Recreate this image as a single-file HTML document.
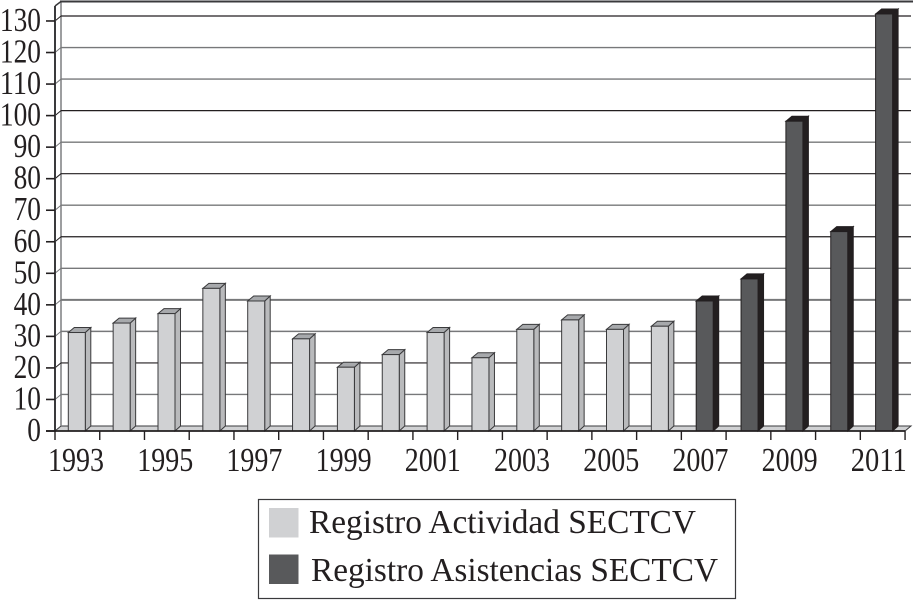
<!DOCTYPE html>
<html lang="es">
<head>
<meta charset="utf-8">
<title>Registro SECTCV</title>
<style>
html,body{margin:0;padding:0;background:#fff;width:913px;height:600px;overflow:hidden}
svg{display:block}
text{font-family:"Liberation Serif",serif;fill:#231f20}
</style>
</head>
<body>
<svg id="chart" xmlns="http://www.w3.org/2000/svg" width="913" height="600" viewBox="0 0 913 600">
  <g id="walls"></g>
  <g id="grid"></g>
  <g id="bars"></g>
  <g id="axes"></g>
  <g id="legend">
    <rect x="258.5" y="499.5" width="477" height="99" fill="#fff" stroke="#3a3a3c" stroke-width="1.2"/>
    <rect x="269" y="508" width="29.500" height="29.500" fill="#d0d1d3"/>
    <text x="309" y="533" font-size="34" textLength="387" lengthAdjust="spacingAndGlyphs">Registro Actividad SECTCV</text>
    <rect x="269" y="554.500" width="29.500" height="29.500" fill="#58595b"/>
    <text x="311" y="581" font-size="34" textLength="407" lengthAdjust="spacingAndGlyphs">Registro Asistencias SECTCV</text>
  </g>
</svg>
<script>
const years = [1993,1994,1995,1996,1997,1998,1999,2000,2001,2002,2003,2004,2005,2006,2007,2008,2009,2010,2011];
const actividadValues = [31,34,37,45,41,29,20,24,31,23,32,35,32,33,null,null,null,null,null];
const asistenciasValues = [null,null,null,null,null,null,null,null,null,null,null,null,null,null,41,48,98,63,132];
const yTicks = [0,10,20,30,40,50,60,70,80,90,100,110,120,130];
const darkGridValues = [130,100,80,60,20];
const xTickLabels = [1993,1995,1997,1999,2001,2003,2005,2007,2009,2011];

const NS = 'http://www.w3.org/2000/svg';
const frontBase = 431, unit = 3.154, depthX = 6, depthY = 5;
function yScale(v){ return frontBase - v * unit; }
function barX(i){ return 68.3 + i * 44.85; }
function tickX(i){ return 55 + i * 44.74; }
function labelX(i){ return 76 + i * 89.2; }
const barW = 17;

function make(tag, parent, attrs){
  const el = document.createElementNS(NS, tag);
  for (const k in attrs) el.setAttribute(k, attrs[k]);
  parent.appendChild(el);
  return el;
}
const walls = document.getElementById('walls');
const grid = document.getElementById('grid');
const bars = document.getElementById('bars');
const axes = document.getElementById('axes');

// walls and floor
const floor = make('polygon', walls, {points:`55,431 ${55+depthX},${431-depthY} 911,${431-depthY} 905,431`, fill:'#d0d1d3', stroke:'#3a3a3c', 'stroke-width':1});


const backLeft = make('line', walls, {x1:61, y1:2, x2:61, y2:426, stroke:'#7d7e80', 'stroke-width':1.5});


const topEdge = make('line', walls, {x1:60, y1:1.5, x2:913, y2:1.5, stroke:'#3a3a3c', 'stroke-width':2});


const slant = make('line', walls, {x1:55, y1:6, x2:61, y2:1.5, stroke:'#3a3a3c', 'stroke-width':1.5});



// gridlines
yTicks.forEach(function(v){
  if (v === 0) return;
  const y = yScale(v);
  const dark = darkGridValues.indexOf(v) >= 0;
  const color = dark ? '#231f20' : '#77787a';
  const w = v === 40 ? 2 : (dark ? 1.2 : 1.4);
  const l = make('line', grid, {x1:61, y1:y-depthY, x2:911, y2:y-depthY, stroke:color, 'stroke-width':w});
  
  
  const s = make('line', grid, {x1:55, y1:y, x2:61, y2:y-depthY, stroke:color, 'stroke-width':1});
  
  
});

// bars
function drawBar(i, value, front, top, side, edge, seriesName){
  const x = barX(i), y = yScale(value) - 0.7, b = frontBase;
  const g = make('g', bars, {});
  
  
  make('polygon', g, {points:`${x+barW},${y} ${x+barW+depthX-0.5},${y-depthY} ${x+barW+depthX-0.5},${b-depthY} ${x+barW},${b}`, fill:side, stroke:edge, 'stroke-width':1});
  make('polygon', g, {points:`${x},${y} ${x+depthX},${y-depthY} ${x+barW+depthX-0.5},${y-depthY} ${x+barW},${y}`, fill:top, stroke:edge, 'stroke-width':1});
  make('rect', g, {x:x, y:y, width:barW, height:b-y, fill:front, stroke:edge, 'stroke-width':1});
}
actividadValues.forEach(function(v,i){
  if (v !== null) drawBar(i, v, '#d0d1d3', '#a7a9ac', '#b9babc', '#3a3a3c', 'actividad');
});
asistenciasValues.forEach(function(v,i){
  if (v !== null) drawBar(i, v, '#58595b', '#231f20', '#231f20', '#231f20', 'asistencias');
});

// axes
const yAxis = make('line', axes, {x1:55, y1:6, x2:55, y2:432, stroke:'#3a3a3c', 'stroke-width':2});


const xAxis = make('line', axes, {x1:46, y1:431, x2:905, y2:431, stroke:'#231f20', 'stroke-width':1.8});



yTicks.forEach(function(v){
  const y = yScale(v);
  const t = make('line', axes, {x1:46, y1:y, x2:55, y2:y, stroke:'#231f20', 'stroke-width':1.6});
  
  
  const s = String(v);
  const label = make('text', axes, {x:41 - s.length * 13.7, y:y + 10, 'font-size':34, textLength:s.length * 13.7, lengthAdjust:'spacingAndGlyphs'});
  label.textContent = s;
  
  
});
for (let i = 0; i <= years.length; i++){
  const x = tickX(i);
  const t = make('line', axes, {x1:x, y1:431, x2:x, y2:440, stroke:'#231f20', 'stroke-width':1.4});
  
  
}
xTickLabels.forEach(function(yr,i){
  const label = make('text', axes, {x:labelX(i) - 28, y:471, 'font-size':34, textLength:56, lengthAdjust:'spacingAndGlyphs'});
  label.textContent = String(yr);
  
  
});
</script>
</body>
</html>
